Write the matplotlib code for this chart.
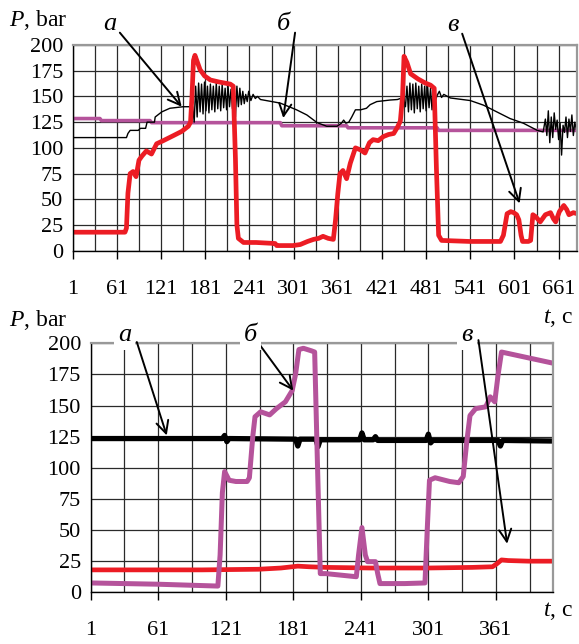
import numpy as np
import matplotlib.pyplot as plt

plt.rcParams['font.family'] = ['Liberation Serif', 'DejaVu Serif']
plt.rcParams['mathtext.fontset'] = 'custom'
plt.rcParams['mathtext.rm'] = 'Liberation Serif'
plt.rcParams['mathtext.it'] = 'Liberation Serif:italic'

# ---- top chart data ----
red_top_x = [1, 72, 74, 76, 79, 83, 87, 91, 95, 101, 108, 115, 124, 138, 149, 158, 161, 163,
             165, 167, 174, 180, 188, 200, 215, 219, 222, 224, 226, 233, 250, 276, 278, 300,
             310, 320, 328, 335, 341, 348, 355, 358, 361, 364, 368, 373, 378, 385, 392, 398,
             404, 409, 416, 423, 430, 437, 442, 446, 449, 451, 455, 460, 470, 480, 487, 492,
             495, 498, 502, 540, 582, 586, 591, 596, 600, 604, 607, 610, 612, 620, 623, 626,
             630, 636, 643, 650, 654, 657, 662, 668, 672, 675, 681, 686]
red_top_y = [18, 18, 22, 56, 75, 77, 72, 88, 92, 97, 94, 104, 107, 112, 116, 121, 125, 150,
             185, 190, 176, 170, 166, 164, 162, 160, 90, 25, 12, 8, 8, 7, 5, 5,
             6, 9, 11, 12, 14, 12, 11, 30, 55, 75, 78, 70, 85, 100, 98, 95,
             105, 108, 107, 111, 113, 114, 120, 126, 150, 189, 183, 172, 167, 163, 161, 158,
             80, 15, 10, 9, 9, 15, 36, 38, 37, 35, 30, 15, 9, 9, 10, 35,
             33, 28, 35, 37, 31, 28, 38, 44, 40, 35, 37, 36]

mag_top_x = [1, 38, 40, 106, 108, 283, 285, 373, 375, 496, 498, 686]
mag_top_y = [128.5, 128.5, 126.5, 126.5, 124.5, 124.5, 121.5, 121.5, 119.5, 119.5, 117, 117]

blk_top_x = [1, 74, 76, 79, 90, 93, 100, 102, 112, 113, 122, 133, 151, 164,
             166, 168, 170, 172, 174, 176, 178, 180, 182, 184, 186, 188, 190, 192, 194, 196,
             198, 200, 202, 204, 206, 208, 210, 212, 214, 216, 218, 220, 222, 224, 226, 228,
             230, 232, 234, 236, 238, 240, 243, 246, 249, 252, 256,
             260, 283, 305, 319, 333, 346, 360, 366, 369, 372, 376, 380, 385, 392, 400, 405,
             414, 432, 442, 450,
             453, 455, 457, 459, 461, 463, 465, 467, 469, 471, 473, 475, 477, 479, 481, 483,
             485, 487, 489, 491, 493, 496, 499, 502, 505,
             514, 541, 559, 577, 595, 613, 632, 640,
             643, 645, 647, 649, 651, 653, 655, 657, 659, 661, 663, 665, 667, 669, 671, 673,
             675, 677, 679, 681, 683, 685, 686]
blk_top_y = [110, 110, 114, 117, 117, 119, 119, 125, 125, 130, 135, 138.5, 140, 140,
             125, 160, 130, 163, 135, 162, 133, 164, 136, 160, 134, 162, 137, 160, 135, 163,
             138, 160, 136, 162, 139, 158, 137, 160, 140, 157, 138, 150, 130, 160, 140, 158,
             142, 155, 143, 152, 145, 155, 146, 152, 148, 150, 147,
             146.5, 143.5, 137, 132, 124.5, 121, 121, 124, 127, 124, 125, 130, 137, 137, 138.5, 142,
             145, 146.5, 147, 149,
             140, 160, 135, 163, 137, 162, 134, 163, 138, 160, 135, 162, 138, 160, 136, 161,
             139, 158, 137, 156, 145, 151, 155, 149, 152,
             148.5, 146, 141.5, 135, 128.5, 124, 117, 115.5,
             128, 112, 136, 105, 130, 110, 134, 118, 127, 108, 124, 93, 122, 115, 130, 110,
             128, 116, 132, 112, 125, 118, 122]

# ---- bottom chart data ----
mag_bot_x = [1, 60, 114, 116, 118, 120, 124, 130, 140, 142, 145, 147, 152, 160, 166, 174, 180,
             183, 186, 190, 197, 200, 202, 205, 210, 237, 239, 242, 245, 247, 254, 256, 258,
             280, 298, 300, 302, 307, 320, 328, 332, 335, 338, 343, 352, 356, 360, 363, 366, 412]
mag_bot_y = [7.5, 6.5, 5, 30, 80, 97, 90, 89, 89, 92, 125, 141, 145, 142.5, 147.5, 153, 162,
             175, 195, 196, 194, 193, 120, 15, 15, 12.5, 30, 52, 30, 24.6, 24.6, 15, 7,
             7, 7.5, 50, 90, 92, 89, 88, 93, 120, 142, 147.5, 149, 157, 153, 175, 193, 184]

red_bot_x = [1, 100, 150, 170, 185, 195, 210, 250, 300, 340, 358, 362, 366, 372, 390, 412]
red_bot_y = [18, 18, 18.5, 19.5, 21, 20.5, 20, 19.5, 19.5, 20, 20.5, 23, 26, 25.5, 25, 25]

blk_bot_x = [1, 118, 120, 122, 124, 183, 185, 187, 201, 203, 205, 240, 242, 244, 252, 254, 256,
             299, 301, 303, 305, 363, 365, 367, 412]
blk_bot_y = [123.5, 123.5, 126, 121, 123.5, 123, 117.5, 123, 123, 117, 122.5, 122.5, 128, 122.5,
             122.5, 125, 122, 122, 127, 120, 122, 122, 117.5, 122, 121.5]

xticks_top = [1, 61, 121, 181, 241, 301, 361, 421, 481, 541, 601, 661]
xticks_bot = [1, 61, 121, 181, 241, 301, 361]
yticks = [0, 25, 50, 75, 100, 125, 150, 175, 200]

RED = '#EC1C24'
MAG = '#B5539B'

fig = plt.figure(figsize=(5.79, 6.44), dpi=100)
ax1 = fig.add_axes([0.1256, 0.6107, 0.871, 0.3194])
ax2 = fig.add_axes([0.1566, 0.0803, 0.799, 0.3866])


def style(ax, xmax, xticks):
    ax.set_xlim(1, xmax)
    ax.set_ylim(0, 200)
    ax.set_xticks(xticks)
    ax.set_xticks(np.arange(31, xmax, 60), minor=True)
    ax.set_yticks(yticks)
    ax.grid(True, which='both', color='#2a2a2a', lw=0.9)
    ax.set_axisbelow(True)
    ax.tick_params(axis='x', which='major', length=6, width=1, direction='out', pad=15, labelsize=16)
    ax.tick_params(axis='x', which='minor', length=0)
    ax.tick_params(axis='y', length=0, pad=7, labelsize=16)
    for s in ['left', 'bottom']:
        ax.spines[s].set_color('black')
        ax.spines[s].set_linewidth(1.0)
    for s in ['top', 'right']:
        ax.spines[s].set_color('#999999')
        ax.spines[s].set_linewidth(1.6)


style(ax1, 686, xticks_top)
style(ax2, 412, xticks_bot)

ax1.plot(mag_top_x, mag_top_y, color=MAG, lw=2.6, solid_joinstyle='round')
ax1.plot(blk_top_x, blk_top_y, color='black', lw=1.0)
ax1.plot(red_top_x, red_top_y, color=RED, lw=3.4, solid_joinstyle='round')

ax2.plot(red_bot_x, red_bot_y, color=RED, lw=3.4)
ax2.plot(blk_bot_x, blk_bot_y, color='black', lw=3.8)
ax2.plot(mag_bot_x, mag_bot_y, color=MAG, lw=3.6, solid_joinstyle='round')

arrow = dict(arrowstyle='->', lw=1.4, color='black', mutation_scale=22, shrinkA=0, shrinkB=0)
lab = dict(fontsize=19, fontstyle='italic', ha='center', va='center')

# top annotations
ax1.annotate('', xy=(149, 140), xytext=(65, 212), arrowprops=arrow, annotation_clip=False)
ax1.annotate('', xy=(287, 129), xytext=(303, 212), arrowprops=arrow, annotation_clip=False)
ax1.annotate('', xy=(608, 46), xytext=(530, 211), arrowprops=arrow, annotation_clip=False)
ax1.text(51, 220, 'а', **lab)
ax1.text(287, 220, 'б', **lab)
ax1.text(518, 219, 'в', **lab)

# bottom annotations
box = dict(fc='white', ec='none', pad=3)
ax2.annotate('', xy=(68.6, 126), xytext=(42, 201), arrowprops=arrow, annotation_clip=False)
ax2.annotate('', xy=(181, 162), xytext=(147, 204), arrowprops=arrow, annotation_clip=False)
ax2.annotate('', xy=(371, 39), xytext=(345.5, 202.6), arrowprops=arrow, annotation_clip=False)
ax2.text(31, 207, 'а', bbox=box, **lab)
ax2.text(143, 207, 'б', bbox=box, **lab)
ax2.text(335, 207, 'в', bbox=box, **lab)

# axis titles
fig.text(0.015, 0.969, '$P$, bar', fontsize=17, ha='left', va='center')
fig.text(0.015, 0.503, '$P$, bar', fontsize=17, ha='left', va='center')
fig.text(0.99, 0.506, '$t$, с', fontsize=17, ha='right', va='center')
fig.text(0.99, 0.052, '$t$, с', fontsize=17, ha='right', va='center')

fig.savefig('out.png', dpi=100)
